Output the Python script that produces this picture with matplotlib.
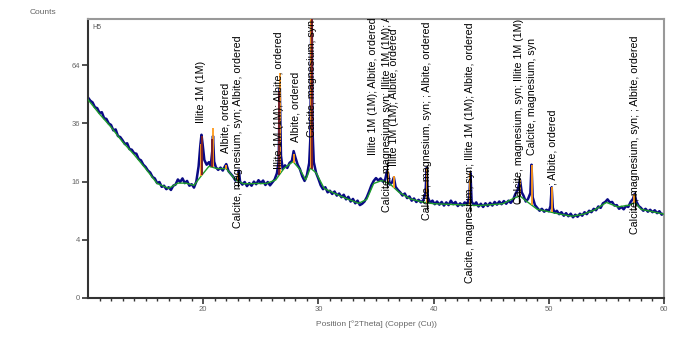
import numpy as np
import matplotlib

matplotlib.use("Agg")
import matplotlib.pyplot as plt

# ---------------------------------------------------------------------------
# Scan data (2theta in degrees, intensity in counts).
# ---------------------------------------------------------------------------
two_theta = [
    10.0, 10.2, 10.4, 10.6, 10.8, 11.0, 11.2, 11.4, 11.6, 11.8, 12.0, 12.2, 12.4, 12.6, 12.8,
    13.0, 13.2, 13.4, 13.6, 13.8, 14.0, 14.2, 14.4, 14.6, 14.8, 15.0, 15.2, 15.4, 15.6, 15.8,
    16.0, 16.2, 16.4, 16.6, 16.8, 17.0, 17.2, 17.4, 17.6, 17.8, 18.0, 18.2, 18.4, 18.6, 18.8,
    19.0, 19.2, 19.4, 19.6, 19.75, 19.85, 19.95, 20.1, 20.3, 20.5, 20.65, 20.8, 20.85, 20.95,
    21.1, 21.3, 21.5, 21.7, 21.9, 22.0, 22.2, 22.4, 22.6, 22.8, 23.0, 23.1, 23.2, 23.4, 23.6,
    23.8, 24.0, 24.2, 24.4, 24.6, 24.8, 25.0, 25.2, 25.4, 25.6, 25.8, 26.0, 26.2, 26.4, 26.55,
    26.65, 26.75, 26.9, 27.1, 27.3, 27.5, 27.7, 27.85, 28.0, 28.2, 28.4, 28.6, 28.8, 29.0,
    29.2, 29.3, 29.4, 29.5, 29.6, 29.8, 30.0, 30.2, 30.4, 30.6, 30.8, 31.0, 31.2, 31.4, 31.6,
    31.8, 32.0, 32.2, 32.4, 32.6, 32.8, 33.0, 33.2, 33.4, 33.6, 33.8, 34.0, 34.2, 34.4, 34.6,
    34.8, 35.0, 35.2, 35.4, 35.6, 35.8, 35.95, 36.05, 36.2, 36.4, 36.55, 36.7, 36.9, 37.1,
    37.3, 37.5, 37.7, 37.9, 38.1, 38.3, 38.5, 38.7, 38.9, 39.1, 39.3, 39.4, 39.5, 39.7, 39.9,
    40.1, 40.3, 40.5, 40.7, 40.9, 41.1, 41.3, 41.5, 41.7, 41.9, 42.1, 42.3, 42.5, 42.7, 42.9,
    43.1, 43.2, 43.3, 43.5, 43.7, 43.9, 44.1, 44.3, 44.5, 44.7, 44.9, 45.1, 45.3, 45.5, 45.7,
    45.9, 46.1, 46.3, 46.5, 46.7, 46.9, 47.1, 47.3, 47.5, 47.65, 47.8, 48.0, 48.2, 48.4, 48.5,
    48.6, 48.8, 49.0, 49.2, 49.4, 49.6, 49.8, 50.0, 50.15, 50.25, 50.35, 50.5, 50.7, 50.9,
    51.1, 51.3, 51.5, 51.7, 51.9, 52.1, 52.3, 52.5, 52.7, 52.9, 53.1, 53.3, 53.5, 53.7, 53.9,
    54.1, 54.3, 54.5, 54.7, 54.9, 55.1, 55.3, 55.5, 55.7, 55.9, 56.1, 56.3, 56.5, 56.7, 56.9,
    57.1, 57.3, 57.45, 57.6, 57.8, 58.0, 58.2, 58.4, 58.6, 58.8, 59.0, 59.2, 59.4, 59.6, 59.8,
    60.0,
]
counts = [
    47.5, 46.0, 45.2, 43.0, 42.6, 40.5, 40.8, 38.2, 37.9, 36.0, 35.4, 33.2, 33.6, 31.0, 30.6,
    29.4, 28.0, 28.3, 26.2, 26.0, 24.8, 24.6, 22.8, 22.4, 21.0, 20.3, 19.2, 18.6, 17.3, 16.9,
    15.6, 15.9, 14.6, 14.9, 14.0, 14.5, 13.8, 14.9, 15.2, 16.6, 15.9, 16.9, 15.6, 16.2, 14.9,
    15.3, 14.4, 16.0, 20.5, 27.5, 31.5, 28.0, 22.5, 21.0, 21.8, 20.6, 26.0, 31.0, 22.0,
    20.2, 19.4, 20.1, 19.2, 20.6, 21.2, 19.0, 18.2, 17.4, 16.3, 17.0, 19.2, 16.0, 15.2, 15.9,
    14.8, 15.6, 14.9, 16.0, 15.3, 16.4, 15.6, 16.3, 15.1, 15.9, 15.0, 15.8, 16.6, 18.4, 22.0,
    52.0, 24.0, 19.6, 20.8, 20.0, 21.6, 22.2, 25.5, 23.4, 21.0, 19.6, 17.5, 16.2, 17.8,
    21.5, 30.0, 110.0, 32.0, 21.8, 18.5, 16.8, 15.0, 14.0, 14.5, 13.2, 13.6, 12.8, 13.4, 12.4,
    12.9, 12.0, 12.6, 11.5, 12.1, 11.0, 11.6, 10.6, 11.2, 10.2, 10.5, 11.0, 12.0, 13.4, 15.0,
    16.2, 17.0, 16.3, 16.9, 16.0, 16.6, 19.0, 18.5, 15.2, 15.8, 17.2, 14.6, 13.8, 13.2,
    12.4, 12.9, 11.8, 12.2, 11.2, 11.7, 10.9, 11.4, 10.8, 11.3, 13.0, 20.0, 12.0, 10.7, 11.2,
    10.4, 11.0, 10.3, 10.9, 10.1, 10.8, 10.2, 11.2, 10.4, 10.9, 10.0, 10.6, 10.1, 10.8, 10.3,
    12.0, 18.5, 11.0, 10.2, 10.8, 9.9, 10.5, 9.8, 10.6, 10.0, 10.7, 10.1, 10.9, 10.3, 11.0,
    10.4, 11.1, 10.5, 11.2, 10.7, 11.4, 12.8, 13.8, 16.5, 13.2, 12.4, 11.0, 11.6, 13.0, 21.0,
    12.0, 10.2, 9.6, 9.0, 9.4, 8.8, 9.2, 8.9, 10.0, 14.5, 9.6, 8.6, 9.0, 8.3,
    8.7, 8.0, 8.5, 7.9, 8.4, 7.7, 8.2, 7.8, 8.4, 8.0, 8.7, 8.3, 9.0, 8.7, 9.4,
    9.1, 9.9, 9.6, 10.6, 10.9, 11.5, 10.8, 10.9, 10.1, 10.2, 9.4, 9.8, 9.3, 10.0, 9.8,
    10.9, 11.6, 12.8, 11.0, 10.0, 9.6, 9.0, 9.4, 8.8, 9.2, 8.7, 9.1, 8.5, 8.9, 8.2,
    8.5,
]

# fitted background (green)
bg_theta = [10, 11, 12, 13, 14, 15, 16, 17, 17.8, 18.5, 19.2, 19.8, 20.5, 21.2, 22, 22.8,
            23.5, 24.5, 25.5, 26.3, 27, 27.8, 28.4, 28.9, 29.3, 29.8, 30.5, 31.5, 32.5, 33.5,
            34.2, 34.8, 35.5, 36.2, 37, 38, 39, 40, 42, 44, 46, 47, 47.5, 48, 49, 50, 51, 52,
            53, 54, 55, 56, 57, 57.5, 58, 59, 60]
bg_counts = [46.5, 40.0, 34.5, 28.8, 24.3, 19.8, 15.5, 14.2, 15.6, 15.6, 15.0, 17.5, 20.5,
             19.8, 19.8, 16.5, 15.4, 15.5, 15.5, 16.5, 19.8, 22.0, 19.5, 16.5, 20.0, 18.5,
             14.2, 12.8, 11.6, 10.6, 11.5, 15.5, 16.3, 15.4, 13.2, 11.6, 10.9, 10.5, 10.3,
             10.1, 10.5, 11.8, 12.3, 11.2, 9.3, 8.8, 8.3, 7.9, 8.3, 9.2, 10.8, 9.8, 10.2,
             10.8, 9.3, 8.8, 8.3]

# peak sticks
orange_pos = [19.8, 20.85, 22.0, 23.05, 26.7, 27.9, 29.35, 36.0, 36.6, 39.4, 43.15, 47.5,
              48.5, 50.25, 57.4]
orange_top = [28, 34, 21, 18.5, 60, 24.5, 95, 19, 17.5, 20, 18.5, 16.5, 21, 14.5, 12.8]
red_pos = [19.9, 20.8, 26.6, 29.45]
red_top = [31, 30, 50, 95]
black_pos = [23.05, 35.95, 39.4, 43.15, 47.45, 57.45]
black_top = [19, 22, 21, 19.5, 17.5, 13.5]

# phase labels: position, bottom of the text (counts), text
label_pos = [19.85, 21.95, 23.05, 26.6, 28.0, 29.45, 34.7, 35.95, 36.6, 39.45, 43.2, 47.45,
             48.55, 50.3, 57.45]
label_base = [36, 24.7, 5.8, 19.8, 28.9, 30.8, 24.3, 8.8, 20.5, 7.2, 0.25, 10.5, 24.3, 15.2,
              4.9]
label_text = [
    "Illite 1M (1M)",
    "Albite, ordered",
    "Calcite, magnesium, syn; Albite, ordered",
    "Illite 1M (1M); Albite, ordered",
    "Albite, ordered",
    "Calcite, magnesium, syn",
    "Illite 1M (1M); Albite, ordered",
    "Calcite, magnesium, syn; Illite 1M (1M); Albite, ordered",
    "Illite 1M (1M); Albite, ordered",
    "Calcite, magnesium, syn; ; Albite, ordered",
    "Calcite, magnesium, syn; Illite 1M (1M); Albite, ordered",
    "Calcite, magnesium, syn; Illite 1M (1M)",
    "Calcite, magnesium, syn",
    "; Albite, ordered",
    "Calcite, magnesium, syn; ; Albite, ordered",
]

y_ticks = [0, 4, 16, 36, 64]
x_ticks = [20, 30, 40, 50, 60]


def fwd(v):
    return np.sqrt(np.clip(v, 0, None))


def inv(v):
    return np.square(v)


plt.rcParams["font.family"] = ["Liberation Sans", "DejaVu Sans"]

fig = plt.figure(figsize=(6.76, 3.38), dpi=100)
ax = fig.add_axes([88 / 676, 1 - 298 / 338, (664 - 88) / 676, (298 - 19) / 338])
ax.set_yscale("function", functions=(fwd, inv))

ax.plot(two_theta, counts, color="#0a0a85", lw=1.8, zorder=2)
ax.plot(bg_theta, bg_counts, color="#1f9e2a", lw=1.0, zorder=3)

base_o = np.interp(orange_pos, bg_theta, bg_counts)
ax.vlines(orange_pos, base_o, orange_top, color="#ff9a1a", lw=1.3, zorder=4)
base_r = np.interp(red_pos, bg_theta, bg_counts)
ax.vlines(red_pos, base_r, red_top, color="#7a1f2a", lw=1.4, zorder=4)
base_b = np.interp(black_pos, bg_theta, bg_counts) - 1.5
ax.vlines(black_pos, base_b, black_top, color="black", lw=0.9, zorder=5)

for p, b, t in zip(label_pos, label_base, label_text):
    ax.text(p, b, t, rotation=90, ha="center", va="bottom", fontsize=7.7,
            color="black", clip_on=True, zorder=6)

ax.text(10.4, 89, "H5", fontsize=5, color="#555555", va="top")

ax.set_xlim(10, 60)
ax.set_ylim(0, 92)
ax.set_yticks(y_ticks)
ax.set_yticklabels([str(v) for v in y_ticks])
ax.yaxis.set_minor_locator(matplotlib.ticker.NullLocator())
ax.set_xticks(x_ticks)
ax.set_xticks(np.arange(11, 60), minor=True)
ax.tick_params(axis="both", which="major", length=4, width=1.2, color="#333333",
               labelsize=5.5, labelcolor="#666666", pad=2)
ax.tick_params(axis="x", which="minor", length=2.5, width=1.0, color="#333333")

for side in ("left", "bottom"):
    ax.spines[side].set_color("#333333")
    ax.spines[side].set_linewidth(1.5)
for side in ("top", "right"):
    ax.spines[side].set_color("#999999")
    ax.spines[side].set_linewidth(1.5)

ax.set_xlabel("Position [°2Theta] (Copper (Cu))", fontsize=6, color="#666666", labelpad=5)
fig.text(30 / 676, 1 - 12 / 338, "Counts", fontsize=6, color="#666666", va="center")

fig.savefig("out.png", dpi=100)
